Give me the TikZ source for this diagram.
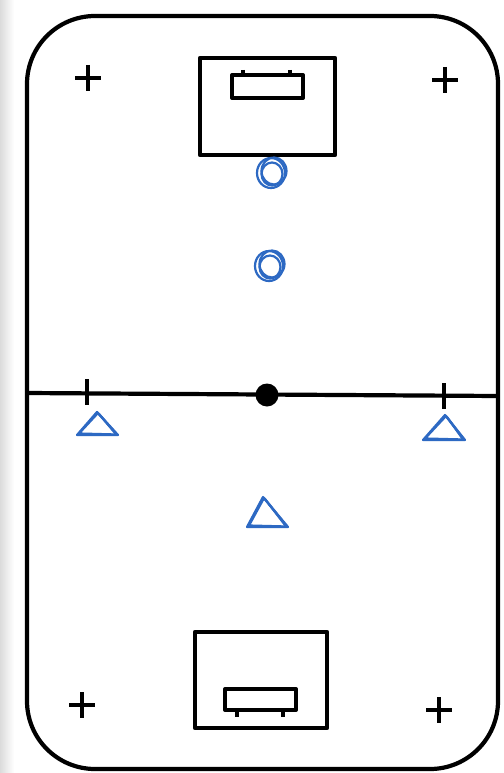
\documentclass[tikz,border=0pt]{standalone}
\definecolor{pen}{RGB}{45,105,195}
\begin{document}
\begin{tikzpicture}[x=1pt,y=-1pt,line join=round,
  court/.style={line width=4.2pt,black},
  linemark/.style={line width=4pt,black},
  bluepen/.style={line width=2.2pt,pen,line cap=round,line join=round}]
\useasboundingbox (0,0) rectangle (503,773);
\fill[white] (0,0) rectangle (503,773);
\shade[left color=black!14,right color=white] (0,0) rectangle (14,773);
% court
\draw[court,rounded corners=68pt] (27,16) rectangle (498,769);
\coordinate (ml) at (27,393);
\coordinate (mr) at (498,396);
\draw[court] (ml) -- (mr);
\coordinate (centre) at (267,395);
\fill (centre) circle (11.5);
\draw[linemark] (87,379) -- (87,405);
\draw[linemark] (444,383) -- (444,409);
% corner crosses
\foreach \px/\py in {88/78,445/80,82/705,439/710}{
  \draw[linemark] (\px-13,\py) -- (\px+13,\py) (\px,\py-13) -- (\px,\py+13);
}
% top goal
\draw[court] (200,58) rectangle (335,155);
\draw[linemark] (232,75) rectangle (303,98);
\draw[linemark] (243,70) -- (243,75) (290,70) -- (290,75);
% bottom goal
\draw[court] (195,632) rectangle (327,728);
\draw[linemark] (225,689) rectangle (296,710);
\draw[linemark] (237,710) -- (237,717) (283,710) -- (283,717);
% blue circles
\foreach \cx/\cy in {272/172,270/265}{
  \draw[bluepen] (\cx-1,\cy+1) ellipse [x radius=14,y radius=15];
  \draw[bluepen] (\cx+2,\cy-1) ellipse [x radius=12.5,y radius=13.5];
  \draw[bluepen] (\cx,\cy+2) ellipse [x radius=10.5,y radius=11.5];
}
% blue triangles
\foreach \ax/\ay/\lx/\rx/\by in {97/412/77/118/435, 445/415/423/465/440, 263/497/247/288/527}{
  \draw[bluepen] (\ax,\ay) -- (\lx,\by) -- (\rx,\by) -- cycle;
  \draw[bluepen] (\ax+1,\ay+1) -- (\lx+2,\by-1.5) -- (\rx-1,\by-0.5) -- cycle;
  \draw[bluepen] (\ax+2,\ay+2) -- (\rx-3,\by-2);
}
\end{tikzpicture}
\end{document}
